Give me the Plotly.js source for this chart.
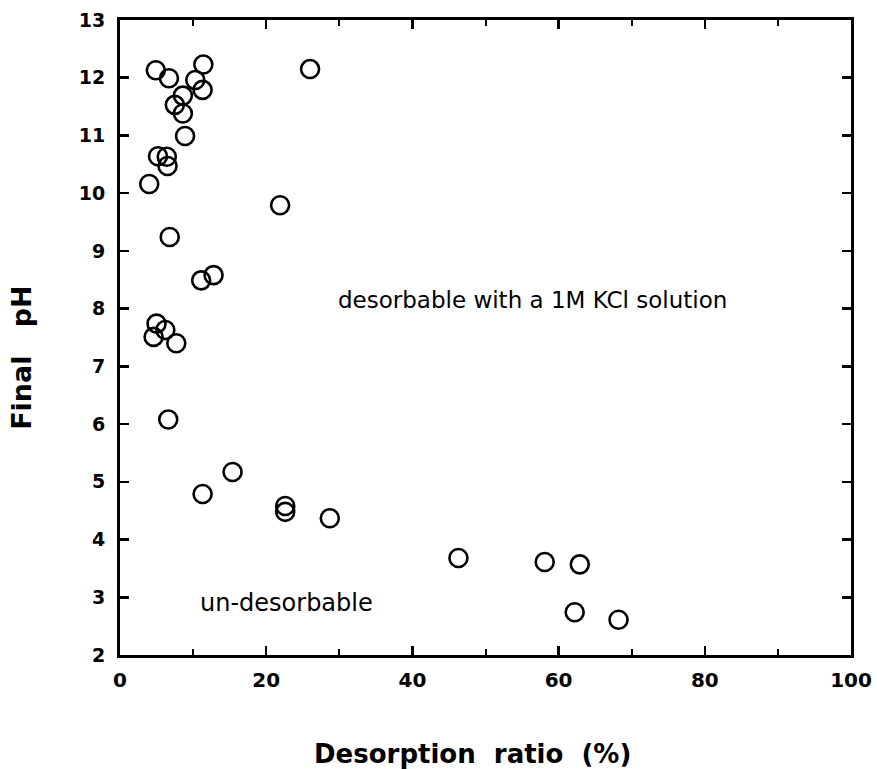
<!DOCTYPE html>
<html>
<head>
<meta charset="utf-8">
<script src="https://cdn.plot.ly/plotly-3.0.1.min.js"></script>
<style>html,body{margin:0;padding:0;background:#fff;}#chart{width:877px;height:769px;}</style>
</head>
<body>
<div id="chart"></div>
<script>
// Desorption ratio (%) and final pH
const desorptionRatio = [4.9, 6.7, 10.3, 11.4, 11.3, 8.6, 7.5, 8.6, 8.9, 5.2, 6.4, 6.5, 4.0, 26.0, 21.9, 6.8, 11.1, 12.8, 5.0, 6.2, 4.6, 7.7, 6.6, 11.3, 15.4, 22.6, 22.6, 28.7, 46.3, 58.1, 62.9, 62.2, 68.2];
const finalPH = [12.13, 11.99, 11.96, 12.23, 11.79, 11.69, 11.53, 11.38, 10.99, 10.64, 10.63, 10.47, 10.16, 12.15, 9.79, 9.24, 8.49, 8.58, 7.74, 7.63, 7.51, 7.40, 6.08, 4.79, 5.17, 4.48, 4.58, 4.37, 3.68, 3.61, 3.57, 2.74, 2.61];
const xTickVals = [0, 20, 40, 60, 80, 100];
const yTickVals = [2, 3, 4, 5, 6, 7, 8, 9, 10, 11, 12, 13];
const regionLabels = ["desorbable with a 1M KCl solution", "un-desorbable"];
const xTitle = "Desorption\u00A0\u00A0ratio\u00A0\u00A0(%)";
const yTitle = "Final\u00A0\u00A0\u00A0pH";

const trace = {
  x: desorptionRatio, y: finalPH, type: 'scatter', mode: 'markers',
  marker: {symbol: 'circle-open', size: 18, color: '#000', line: {width: 2.6, color: '#000'}},
  hoverinfo: 'skip', showlegend: false
};

const FAM = 'DejaVu Sans, Arial, sans-serif';
const layout = {
  width: 877, height: 769,
  margin: {l: 120, r: 26, t: 20, b: 114},
  paper_bgcolor: '#fff', plot_bgcolor: '#fff',
  xaxis: {
    range: [0, 100], tickvals: xTickVals, ticktext: xTickVals.map(v => '<b>' + v + '</b>'),
    ticks: 'inside', ticklen: 9, tickwidth: 2.5, tickcolor: '#000',
    minor: {dtick: 10, ticks: 'inside', ticklen: 6, tickwidth: 2, tickcolor: '#000'},
    showline: true, linewidth: 3, linecolor: '#000', mirror: 'ticks',
    showgrid: false, zeroline: false, ticklabelstandoff: 5,
    tickfont: {family: FAM, size: 20, color: '#000'}
  },
  yaxis: {
    range: [2, 13], tickvals: yTickVals, ticktext: yTickVals.map(v => '<b>' + v + '</b>'),
    ticks: 'inside', ticklen: 9, tickwidth: 2.5, tickcolor: '#000',
    showline: true, linewidth: 3, linecolor: '#000', mirror: 'ticks',
    showgrid: false, zeroline: false, ticklabelstandoff: 8,
    tickfont: {family: FAM, size: 19, color: '#000'}
  },
  annotations: [
    {x: 56.4, y: 8.15, xref: 'x', yref: 'y', text: regionLabels[0], showarrow: false,
      font: {family: FAM, size: 23, color: '#000'}},
    {x: 22.8, y: 2.9, xref: 'x', yref: 'y', text: regionLabels[1], showarrow: false,
      font: {family: FAM, size: 24, color: '#000'}},
    {x: 0.482, y: -0.156, xref: 'paper', yref: 'paper', text: '<b>' + xTitle + '</b>', showarrow: false,
      xanchor: 'center', yanchor: 'middle', font: {family: FAM, size: 26, color: '#000'}},
    {x: -0.134, y: 0.468, xref: 'paper', yref: 'paper', text: '<b>' + yTitle + '</b>', showarrow: false,
      textangle: -90, xanchor: 'center', yanchor: 'middle', font: {family: FAM, size: 27, color: '#000'}}
  ]
};
Plotly.newPlot('chart', [trace], layout, {displayModeBar: false, staticPlot: true});
</script>
</body>
</html>
